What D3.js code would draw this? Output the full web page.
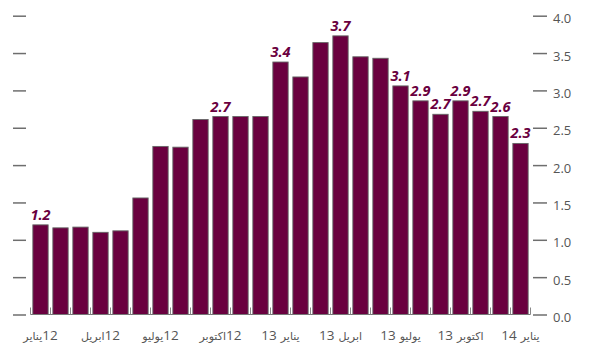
<!DOCTYPE html>
<html>
<head>
<meta charset="utf-8">
<script src="https://cdn.jsdelivr.net/npm/d3@7"></script>
<style>
  html, body { margin: 0; padding: 0; background: #fff; }
  svg { display: block; }
</style>
</head>
<body>
<svg id="chart" width="590" height="347"></svg>
<script>
// ---- data ----
const values = [1.20, 1.16, 1.17, 1.10, 1.12, 1.56, 2.25, 2.24, 2.61, 2.65, 2.65, 2.65,
                3.38, 3.18, 3.64, 3.73, 3.45, 3.43, 3.06, 2.86, 2.68, 2.86, 2.72, 2.65, 2.29];
const valueLabels = ["1.2", null, null, null, null, null, null, null, null, "2.7", null, null,
                     "3.4", null, null, "3.7", null, null, "3.1", "2.9", "2.7", "2.9", "2.7", "2.6", "2.3"];
const xTickIndex = [0, 3, 6, 9, 12, 15, 18, 21, 24];
// category labels, pieces listed in visual left-to-right order
const xTickLabels = [["يناير", "12"], ["ابريل", "12"], ["يوليو", "12"], ["اكتوبر", "12"],
                     ["13", " ", "يناير"], ["13", " ", "ابريل"], ["13", " ", "يوليو"], ["13", " ", "اكتوبر"], ["14", " ", "يناير"]];
const yTicks = [0, 0.5, 1, 1.5, 2, 2.5, 3, 3.5, 4];

// ---- layout ----
const svg = d3.select("#chart");
const barColor = "#6a003f";
const font = "'Open Sans', 'DejaVu Sans', sans-serif";

const x = d3.scaleBand()
  .domain(values.map((d, i) => i))
  .range([30.5, 530.5])
  .paddingInner(0.235)
  .paddingOuter(0.1175);

const y = d3.scaleLinear().domain([0, 4]).range([314.5, 15.7]);

// left axis (ticks only)
const leftAxis = svg.append("g")
  .attr("transform", "translate(26,0)")
  .call(d3.axisLeft(y).tickValues(yTicks).tickSize(13).tickFormat(""));
leftAxis.select(".domain").remove();
leftAxis.selectAll(".tick line").attr("stroke", "#6e6e6e").attr("stroke-width", 1.5);

// right axis
const rightAxis = svg.append("g")
  .attr("transform", "translate(533,0)")
  .call(d3.axisRight(y).tickValues(yTicks).tickSize(14).tickPadding(6).tickFormat(d3.format(".1f")));
rightAxis.select(".domain").remove();
rightAxis.selectAll(".tick line").attr("stroke", "#6e6e6e").attr("stroke-width", 1.5);
rightAxis.selectAll(".tick text")
  .attr("fill", "#555")
  .attr("dy", "0.55em")
  .style("font-family", font)
  .style("font-size", "13px");

// bars
svg.append("g").selectAll("rect")
  .data(values)
  .join("rect")
  .attr("x", (d, i) => x(i))
  .attr("y", d => y(d))
  .attr("width", x.bandwidth())
  .attr("height", d => y(0) - y(d))
  .attr("fill", barColor)
  .attr("stroke", "#666")
  .attr("stroke-width", 0.9);

// baseline
svg.append("line")
  .attr("x1", x.range()[0]).attr("x2", x.range()[1])
  .attr("y1", y(0)).attr("y2", y(0))
  .attr("stroke", "#777").attr("stroke-width", 1.2);

// small ticks at band boundaries
const boundaries = d3.range(values.length + 1).map(i => x.range()[0] + i * x.step());
svg.append("g").selectAll("line")
  .data(boundaries)
  .join("line")
  .attr("x1", d => d).attr("x2", d => d)
  .attr("y1", y(0) - 7).attr("y2", y(0))
  .attr("stroke", "#888").attr("stroke-width", 1);

// value labels
svg.append("g").selectAll("text")
  .data(values.map((v, i) => ({ v, i, t: valueLabels[i] })).filter(d => d.t))
  .join("text")
  .attr("x", d => x(d.i) + x.bandwidth() / 2)
  .attr("y", d => y(d.v) - 5)
  .attr("text-anchor", "middle")
  .attr("fill", barColor)
  .style("font-family", font)
  .style("font-size", "14.5px")
  .style("font-weight", "bold")
  .style("font-style", "italic")
  .text(d => d.t);

// x labels: each piece drawn as its own text, laid out left to right
const xg = svg.append("g");
xTickIndex.forEach((idx, k) => {
  const pieces = xTickLabels[k];
  const g = xg.append("g");
  let cursor = 0;
  pieces.forEach(p => {
    if (p === " ") { cursor += 4; return; }
    const isNum = /^[0-9]+$/.test(p);
    const t = g.append("text")
      .attr("x", cursor)
      .attr("y", 339.5)
      .attr("fill", "#555")
      .style("font-family", font)
      .style("font-size", isNum ? "13.5px" : "11px")
      .text(p);
    cursor += t.node().getComputedTextLength();
  });
  const cx = x(idx) + x.bandwidth() / 2;
  g.attr("transform", `translate(${cx - cursor / 2},0)`);
});
</script>
</body>
</html>
